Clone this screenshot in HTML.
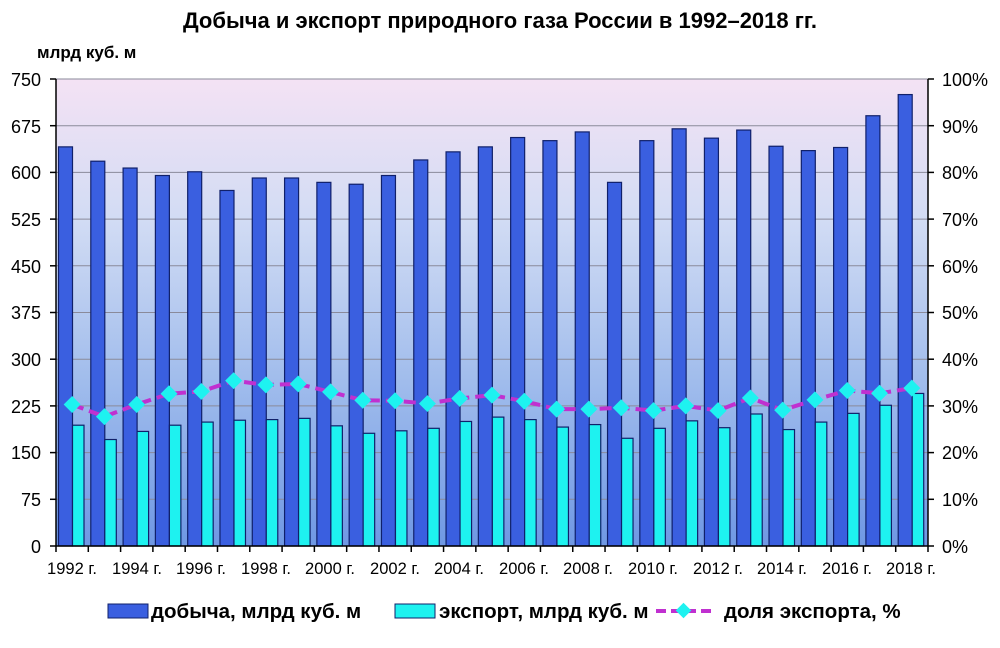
<!DOCTYPE html>
<html><head><meta charset="utf-8"><style>
body{margin:0;background:#fff;width:1000px;height:643px;overflow:hidden;font-family:"Liberation Sans",sans-serif}
</style></head><body>
<svg id="s" width="1000" height="643" xmlns="http://www.w3.org/2000/svg" font-family="Liberation Sans, sans-serif">
<defs><linearGradient id="bg" x1="0" y1="0" x2="0" y2="1">
<stop offset="0" stop-color="#f4e2f4"/><stop offset="0.3" stop-color="#d2dcf4"/><stop offset="0.65" stop-color="#a0bcec"/><stop offset="1" stop-color="#6f98e4"/></linearGradient></defs>
<text x="500" y="28" text-anchor="middle" font-weight="bold" font-size="22">Добыча и экспорт природного газа России в 1992–2018 гг.</text>
<text x="37" y="58" font-weight="bold" font-size="17">млрд куб. м</text>
<rect x="56" y="79" width="872" height="467" fill="url(#bg)"/>
<g id="grid" stroke="#8a8a9a" stroke-width="1"></g>
<g id="bars"></g>
<g id="line"></g>
<g id="axes" stroke="#000" stroke-width="1.5"></g>
<g font-size="18" text-anchor="end">
<text x="41" y="86">750</text><text x="41" y="133">675</text><text x="41" y="179">600</text><text x="41" y="226">525</text><text x="41" y="273">450</text><text x="41" y="319">375</text><text x="41" y="366">300</text><text x="41" y="413">225</text><text x="41" y="459">150</text><text x="41" y="506">75</text><text x="41" y="553">0</text>
</g>
<g font-size="18">
<text x="942" y="86">100%</text><text x="942" y="133">90%</text><text x="942" y="179">80%</text><text x="942" y="226">70%</text><text x="942" y="273">60%</text><text x="942" y="319">50%</text><text x="942" y="366">40%</text><text x="942" y="413">30%</text><text x="942" y="459">20%</text><text x="942" y="506">10%</text><text x="942" y="553">0%</text>
</g>
<g font-size="16.5" text-anchor="middle">
<text x="72" y="574">1992 г.</text><text x="137" y="574">1994 г.</text><text x="201" y="574">1996 г.</text><text x="266" y="574">1998 г.</text><text x="330" y="574">2000 г.</text><text x="395" y="574">2002 г.</text><text x="459" y="574">2004 г.</text><text x="524" y="574">2006 г.</text><text x="588" y="574">2008 г.</text><text x="653" y="574">2010 г.</text><text x="718" y="574">2012 г.</text><text x="782" y="574">2014 г.</text><text x="847" y="574">2016 г.</text><text x="911" y="574">2018 г.</text>
</g>
<g font-size="20.5" font-weight="bold">
<rect x="108" y="604" width="40" height="14" fill="#3a5fe0" stroke="#10206a"/>
<text x="151" y="618">добыча, млрд куб. м</text>
<rect x="395" y="604" width="40" height="14" fill="#1ef2f0" stroke="#10206a"/>
<text x="439" y="618">экспорт, млрд куб. м</text>
<line x1="656" y1="611" x2="712" y2="611" stroke="#c030d0" stroke-width="4" stroke-dasharray="10,5"/>
<rect x="678" y="605" width="11" height="11" fill="#1ef2f0" transform="rotate(45 683.5 610.5)"/>
<text x="724" y="618">доля экспорта, %</text>
</g>
</svg>
<script>
var P=[641,618,607,595,601,571,591,591,584,581,595,620,633,641,656,651,665,584,651,670,655,668,642,635,640,691,725];
var E=[194,171,184,194,199,202,203,205,193,181,185,189,200,207,203,191,195,173,189,201,190,212,187,199,213,226,245];
var S=[30.3,27.7,30.3,32.6,33.1,35.4,34.5,34.7,33.0,31.2,31.1,30.5,31.6,32.3,31.0,29.3,29.3,29.6,29.0,30.0,29.0,31.7,29.1,31.3,33.3,32.7,33.8];
var ns="http://www.w3.org/2000/svg";
function el(p,t,a){var e=document.createElementNS(ns,t);for(var k in a)e.setAttribute(k,a[k]);document.getElementById(p).appendChild(e);return e;}
var L=56,R=928,T=79,B=546,w=(R-L)/27,k=(B-T)/750;
for(var i=1;i<10;i++){var y=B-i*75*k;el("grid","line",{x1:L,x2:R,y1:y,y2:y});}
el("grid","line",{x1:L,x2:R,y1:T,y2:T});
for(i=0;i<27;i++){var x=L+i*w;
el("bars","rect",{x:x+2.5,y:B-P[i]*k,width:14,height:P[i]*k,fill:"#3a5fe0",stroke:"#10206a","stroke-width":1.2});
el("bars","rect",{x:x+16.5,y:B-E[i]*k,width:11.5,height:E[i]*k,fill:"#1ef2f0",stroke:"#10206a","stroke-width":1.2});}
var pts=S.map(function(s,i){return (L+(i+0.5)*w)+","+(B-s/100*(B-T));}).join(" ");
el("line","polyline",{points:pts,fill:"none",stroke:"#c030d0","stroke-width":4,"stroke-dasharray":"12,6"});
S.forEach(function(s,i){var cx=L+(i+0.5)*w,cy=B-s/100*(B-T);el("line","rect",{x:cx-6,y:cy-6,width:12,height:12,fill:"#1ef2f0",transform:"rotate(45 "+cx+" "+cy+")"});});
el("axes","line",{x1:L,x2:L,y1:T,y2:B});el("axes","line",{x1:R,x2:R,y1:T,y2:B});el("axes","line",{x1:L,x2:R,y1:B,y2:B});
for(i=0;i<=10;i++){var y=B-i*75*k;el("axes","line",{x1:L-6,x2:L,y1:y,y2:y});el("axes","line",{x1:R,x2:R+6,y1:y,y2:y});}
for(i=0;i<=27;i++){var x=L+i*w;el("axes","line",{x1:x,x2:x,y1:B,y2:B+6});}
</script>
</body></html>
